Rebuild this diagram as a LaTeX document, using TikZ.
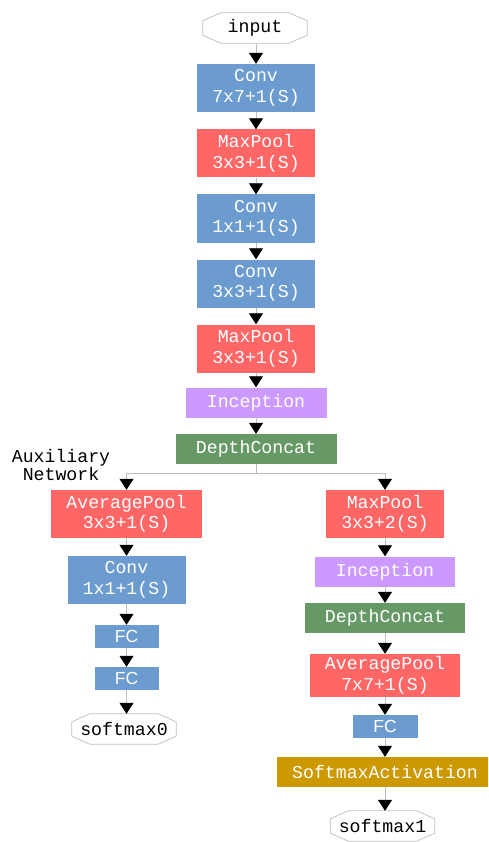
\documentclass[tikz,border=0pt]{standalone}
\usepackage{fontspec}
\setmonofont{Liberation Mono}
\setsansfont{Liberation Sans}
\usetikzlibrary{arrows.meta,calc}
\definecolor{cblue}{RGB}{108,155,208}
\definecolor{cred}{RGB}{255,102,102}
\definecolor{cpurple}{RGB}{204,153,255}
\definecolor{cgreen}{RGB}{102,153,102}
\definecolor{cgold}{RGB}{204,153,0}
\definecolor{cline}{RGB}{190,190,190}
\begin{document}
\begin{tikzpicture}[x=1pt,y=-1pt,
  lay/.style={rectangle, inner sep=0pt, text=white, align=center,
    font=\ttfamily\fontsize{18.2}{20.5}\selectfont},
  twoline/.style={lay, minimum width=118pt, minimum height=48pt},
  oneline/.style={lay, minimum height=30pt},
  fcbox/.style={lay, minimum width=64pt, minimum height=23pt, fill=cblue,
    font=\sffamily\fontsize{17.5}{20}\selectfont},
  term/.style={inner sep=0pt, minimum width=104pt, minimum height=30pt,
    font=\ttfamily\fontsize{18.2}{20}\selectfont, text=black},
  arr/.style={draw=cline, line width=0.8pt, -{Triangle[width=14pt,length=11pt,fill=black,color=black]}},
  ln/.style={draw=cline, line width=0.8pt}
]
\useasboundingbox (0,0) rectangle (488,842);
\begin{scope}
\clip (0,0) rectangle (488,842);
% main column
\node[term] (input) at (255,28) {input};
\node[twoline, fill=cblue] (c1) at (256,88) {Conv\\7x7+1(S)};
\node[twoline, fill=cred] (m1) at (256,153.5) {MaxPool\\3x3+1(S)};
\node[twoline, fill=cblue] (c2) at (256,218.5) {Conv\\1x1+1(S)};
\node[twoline, fill=cblue] (c3) at (256,283.5) {Conv\\3x3+1(S)};
\node[twoline, fill=cred] (m2) at (256,348.5) {MaxPool\\3x3+1(S)};
\node[oneline, minimum width=141pt, fill=cpurple] (inc1) at (256,402.5) {Inception};
\node[oneline, minimum width=161pt, fill=cgreen] (dc1) at (256,449) {DepthConcat};
\node[align=center, font=\ttfamily\fontsize{18.2}{18.5}\selectfont, text=black] (aux) at (61,465) {Auxiliary\\Network};
% left branch
\node[twoline, minimum width=151pt, fill=cred] (ap1) at (126.5,514) {AveragePool\\3x3+1(S)};
\node[twoline, fill=cblue] (c4) at (126.5,580) {Conv\\1x1+1(S)};
\node[fcbox] (fc1) at (126.5,636.5) {FC};
\node[fcbox] (fc2) at (126.5,678.5) {FC};
\node[term] (sm0) at (124,729) {softmax0};
% right branch
\node[twoline, fill=cred] (m3) at (385,514) {MaxPool\\3x3+2(S)};
\node[oneline, minimum width=140pt, fill=cpurple] (inc2) at (385,571.5) {Inception};
\node[oneline, minimum width=160pt, fill=cgreen] (dc2) at (385,618) {DepthConcat};
\node[twoline, minimum width=150pt, fill=cred, minimum height=43pt] (ap2) at (385,675.5) {AveragePool\\7x7+1(S)};
\node[fcbox, minimum width=65pt] (fc3) at (385,726.5) {FC};
\node[oneline, minimum width=216pt, fill=cgold] (sa) at (385,772) {SoftmaxActivation};
\node[term] (sm1) at (382.5,826) {softmax1};
% octagon outlines
\foreach \n in {input,sm0,sm1}{
  \draw[draw=cline, line width=0.7pt]
    ($(\n.north west)+(18,0)$) -- ($(\n.north east)+(-18,0)$) --
    ($(\n.north east)+(0,8)$) -- ($(\n.south east)+(0,-8)$) --
    ($(\n.south east)+(-18,0)$) -- ($(\n.south west)+(18,0)$) --
    ($(\n.south west)+(0,-8)$) -- ($(\n.north west)+(0,8)$) -- cycle;
}
% connectors
\draw[arr] (input.south -| c1.north) -- (c1);
\draw[arr] (c1) -- (m1);
\draw[arr] (m1) -- (c2);
\draw[arr] (c2) -- (c3);
\draw[arr] (c3) -- (m2);
\draw[arr] (m2) -- (inc1);
\draw[arr] (inc1) -- (dc1);
\coordinate (br) at (256,473);
\draw[ln] (dc1) -- (br);
\draw[arr] (br) -| (ap1);
\draw[arr] (br) -| (m3);
\draw[arr] (ap1) -- (c4);
\draw[arr] (c4) -- (fc1);
\draw[arr] (fc1) -- (fc2);
\draw[arr] (fc2.south) -- (fc2.south |- sm0.north);
\draw[arr] (m3) -- (inc2);
\draw[arr] (inc2) -- (dc2);
\draw[arr] (dc2) -- (ap2);
\draw[arr] (ap2) -- (fc3);
\draw[arr] (fc3) -- (sa);
\draw[arr] (sa.south) -- (sa.south |- sm1.north);
\end{scope}
\end{tikzpicture}
\end{document}
